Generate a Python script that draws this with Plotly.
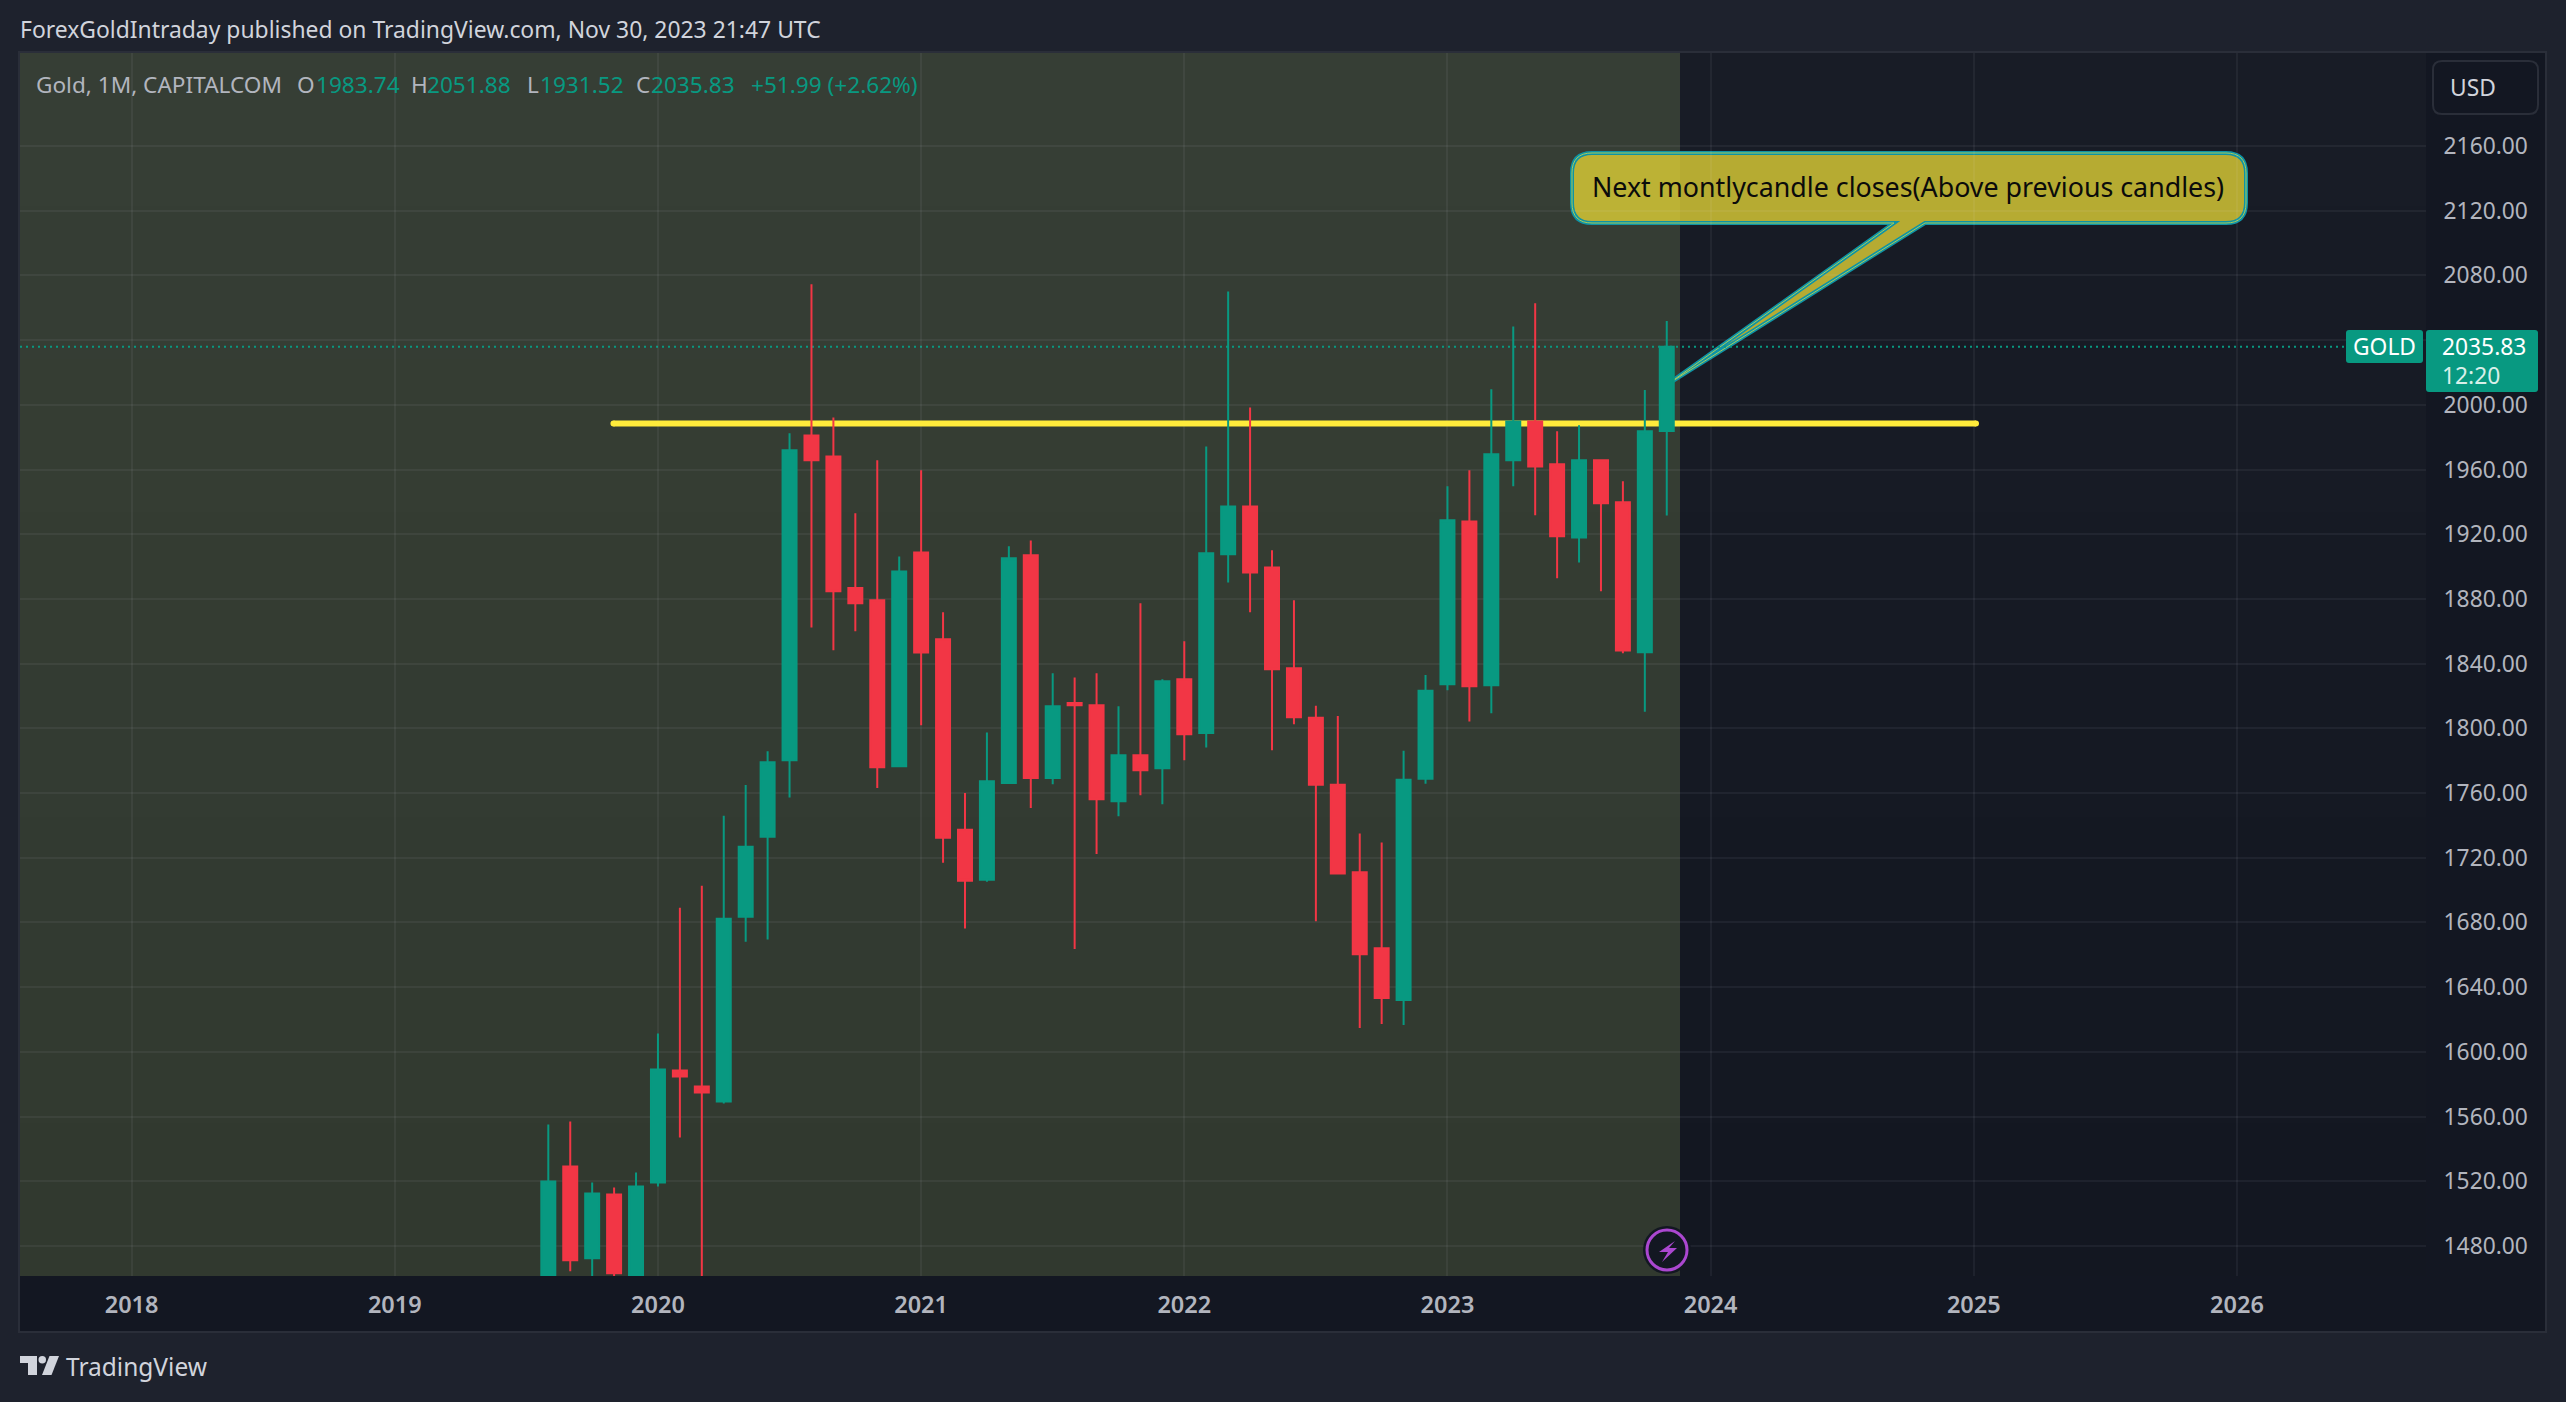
import plotly.graph_objects as go

# ---------- data ----------
bar_index = list(range(-5, 47))   # months since Jan 2020
opens = [1413, 1529.2, 1472.4, 1511.9, 1461.9,
         1519.3, 1588.5, 1578.6, 1569.3, 1683.6, 1733, 1780.3, 1981.1, 1968.1, 1886.7, 1879.2, 1776.5,
         1908.7, 1855.1, 1737.3, 1706.4, 1766.2, 1907, 1769.3, 1815.6, 1814.3, 1754.9, 1783.4, 1775.4,
         1830.4, 1797.1, 1907.6, 1937.2, 1899.5, 1837.2, 1806.5, 1765.2, 1711, 1664.1, 1632.1, 1768.9,
         1827.3, 1927.9, 1826.6, 1965.7, 1989.7, 1963.2, 1918, 1965.8, 1939.8, 1847, 1983.74]
highs = [1555.1, 1557, 1519.3, 1516.2, 1525.5,
         1611.3, 1689.1, 1702.7, 1745.9, 1765, 1785.8, 1982.5, 2074.5, 1992.2, 1933, 1965.7, 1906.3,
         1959.5, 1871.7, 1760, 1797.5, 1912.5, 1916.2, 1834.1, 1831.5, 1834.1, 1813.6, 1877.4, 1830.4,
         1853.8, 1974.3, 2070.1, 1998.3, 1910.1, 1879.2, 1813.9, 1807.7, 1735, 1729.5, 1786.2, 1833,
         1949.6, 1959.5, 2009.6, 2048.4, 2062.8, 1983.6, 1987.3, 1965.8, 1952.8, 2009.1, 2051.88]
lows = [1400, 1464.4, 1458, 1445, 1459,
        1516.8, 1547.1, 1451, 1568.1, 1668.1, 1669.4, 1757.3, 1862.4, 1848.3, 1860, 1763.1, 1775.9,
        1801.9, 1716.9, 1676.2, 1705.2, 1765.8, 1750.7, 1765.5, 1663.6, 1722.3, 1745.6, 1758.7, 1753.1,
        1780.3, 1788.2, 1890.2, 1871.7, 1786.5, 1802.6, 1680.8, 1709.7, 1614.8, 1617.3, 1616.6, 1765.8,
        1823.5, 1804.3, 1809.4, 1949.6, 1931.7, 1892.8, 1902.6, 1884.7, 1846.4, 1810.2, 1931.52]
closes = [1519.9, 1471.2, 1512.5, 1463.1, 1516.8,
          1589.1, 1584.8, 1574.9, 1682.3, 1726.8, 1779, 1971.9, 1965.7, 1884.7, 1877.4, 1775.9, 1897,
          1846.9, 1732.3, 1705.8, 1767.3, 1905.2, 1769.3, 1813.6, 1814.3, 1756.2, 1783.4, 1774.1, 1829.1,
          1796.4, 1908.3, 1937.2, 1896.4, 1836.6, 1806.8, 1765.2, 1710.3, 1660.4, 1633.3, 1768.3, 1823.2,
          1928.6, 1826, 1969.4, 1989.7, 1961.9, 1918.7, 1965.7, 1939.2, 1848.2, 1983.7, 2035.83]

price_ticks = list(range(1480, 2200, 40))
# the 2040.00 label is hidden behind the price tag in the reference
price_labels = ["" if p == 2040 else f"{p}.00" for p in price_ticks]
year_ticks = [-24, -12, 0, 12, 24, 36, 48, 60, 72]
year_labels = ["2018", "2019", "2020", "2021", "2022", "2023", "2024", "2025", "2026"]

last_price = 2035.83
level_price = 1988.5
level_start, level_end = -2.03, 60.1

# ---------- page geometry (pixels) ----------
W, H = 2566, 1402
L, R, T, B = 20, 2426, 53, 1276
def fx(p): return (p - L) / (R - L)
def fy(p): return (B - p) / (B - T)
def lerp(a, b, t): return tuple(a[i] + (b[i] - a[i]) * t for i in range(3))
def rgb(c): return "rgb(%d,%d,%d)" % tuple(round(v) for v in c)

BG = "#1e222d"
AXIS_BG = "#131722"
GREEN = "#089981"
RED = "#F23645"
TXT = "#b2b5be"
FONT = "Noto Sans"

shapes = []
# axis panel
shapes.append(dict(type="rect", xref="paper", yref="paper", x0=fx(19), x1=fx(2546), y0=fy(1332), y1=fy(52),
                   fillcolor=AXIS_BG, line=dict(color="#2a2e39", width=2), layer="below"))
# vertical background gradient of the pane and of the shaded zone
N = 8
edges = [T + round((B - T) * i / N) for i in range(N + 1)]
for i in range(N):
    t = i / (N - 1)
    shapes.append(dict(type="rect", xref="paper", yref="paper", x0=0, x1=1, y0=fy(B), y1=fy(edges[i]),
                       fillcolor=rgb(lerp((24, 28, 38), (19, 23, 33), t)), line_width=0, layer="below"))
for i in range(N):
    t = i / (N - 1)
    shapes.append(dict(type="rect", xref="paper", yref="paper", x0=0, x1=fx(1680), y0=fy(B), y1=fy(edges[i]),
                       fillcolor=rgb(lerp((54, 62, 53), (49, 57, 47), t)), line_width=0, layer="below"))


def rounded(x0, y0, x1, y1, r, tail=None):
    P = lambda x, y: f"{fx(x):.6f},{fy(y):.6f}"
    mid = ""
    if tail:
        (bx0, bx1, tx, ty) = tail
        mid = f"L {P(bx1, y1)} L {P(tx, ty)} L {P(bx0, y1)} "
    return (f"M {P(x0 + r, y0)} L {P(x1 - r, y0)} Q {P(x1, y0)} {P(x1, y0 + r)} "
            f"L {P(x1, y1 - r)} Q {P(x1, y1)} {P(x1 - r, y1)} "
            + mid +
            f"L {P(x0 + r, y1)} Q {P(x0, y1)} {P(x0, y1 - r)} "
            f"L {P(x0, y0 + r)} Q {P(x0, y0)} {P(x0 + r, y0)} Z")

callout = rounded(1572, 153, 2246, 223, 20, (1894, 1925, 1668, 384))
shapes.append(dict(type="path", xref="paper", yref="paper", path=callout, layer="between",
                   fillcolor="rgba(222,207,54,0.8)", line=dict(color="#0e93a6", width=4)))
shapes.append(dict(type="path", xref="paper", yref="paper", path=callout, layer="between",
                   fillcolor="rgba(0,0,0,0)", line=dict(color="#a8cc5a", width=1)))
# horizontal level, with round ends
shapes.append(dict(type="line", xref="x", yref="y", x0=level_start, x1=level_end, y0=level_price, y1=level_price,
                   line=dict(color="#ffeb3b", width=6), layer="between"))
for xa in (level_start, level_end):
    shapes.append(dict(type="circle", xref="x", yref="y", xsizemode="pixel", ysizemode="pixel",
                       xanchor=xa, yanchor=level_price, x0=-3, x1=3, y0=-3, y1=3,
                       fillcolor="#ffeb3b", line_width=0, layer="between"))
# last price line
shapes.append(dict(type="line", xref="paper", yref="y", x0=0, x1=1, y0=last_price, y1=last_price,
                   line=dict(color=GREEN, width=2, dash="2px,4px"), layer="between"))
# price tags
shapes.append(dict(type="path", xref="paper", yref="paper", path=rounded(2346, 330, 2423, 363, 3),
                   fillcolor=GREEN, line_width=0, layer="above"))
shapes.append(dict(type="path", xref="paper", yref="paper", path=rounded(2426, 330, 2538, 392, 3),
                   fillcolor=GREEN, line_width=0, layer="above"))
# USD button
shapes.append(dict(type="path", xref="paper", yref="paper", path=rounded(2433, 61, 2538, 114, 9),
                   fillcolor=AXIS_BG, line=dict(color="#2a2e39", width=2), layer="above"))
# lightning badge
shapes.append(dict(type="circle", xref="paper", yref="paper", x0=fx(1643), x1=fx(1691), y0=fy(1274), y1=fy(1226),
                   fillcolor=AXIS_BG, line_width=0, layer="above"))
shapes.append(dict(type="circle", xref="paper", yref="paper", x0=fx(1647), x1=fx(1687), y0=fy(1270), y1=fy(1230),
                   fillcolor=AXIS_BG, line=dict(color="#ab47d0", width=3), layer="above"))
def poly(pts):
    return "M " + " L ".join(f"{fx(x):.6f},{fy(y):.6f}" for x, y in pts) + " Z"
shapes.append(dict(type="path", xref="paper", yref="paper", layer="above", fillcolor="#ab47d0", line_width=0,
                   path=poly([(1675, 1241), (1659, 1252), (1668, 1252), (1662, 1262), (1677, 1248), (1669, 1248)])))
# TradingView mark
shapes.append(dict(type="path", xref="paper", yref="paper", layer="above", fillcolor="#d1d4dc", line_width=0,
                   path=poly([(20, 1356), (37, 1356), (37, 1375), (28, 1375), (28, 1363), (20, 1363)])))
shapes.append(dict(type="circle", xref="paper", yref="paper", layer="above", fillcolor="#d1d4dc", line_width=0,
                   x0=fx(38.5), x1=fx(46), y0=fy(1363.5), y1=fy(1356)))
shapes.append(dict(type="path", xref="paper", yref="paper", layer="above", fillcolor="#d1d4dc", line_width=0,
                   path=poly([(49.5, 1356), (59, 1356), (51.5, 1375), (42, 1375)])))

def note(x, y, text, color=TXT, size=22.6, anchor="left", weight=None):
    f = dict(family=FONT, size=size, color=color)
    if weight: f["weight"] = weight
    return dict(xref="paper", yref="paper", x=fx(x), y=fy(y), text=text, showarrow=False,
                xanchor=anchor, yanchor="middle", font=f, borderpad=0, borderwidth=0)

annotations = [
    note(20, 30, "ForexGoldIntraday published on TradingView.com, Nov 30, 2023 21:47 UTC", "#d1d4dc", 22.9),
    note(36, 84, "Gold, 1M, CAPITALCOM", TXT),
    note(297, 84, "O", TXT), note(316, 84, "1983.74", GREEN),
    note(411, 84, "H", TXT), note(427, 84, "2051.88", GREEN),
    note(527, 84, "L", TXT), note(540, 84, "1931.52", GREEN),
    note(636, 84, "C", TXT), note(651, 84, "2035.83", GREEN),
    note(751, 84, "+51.99 (+2.62%)", GREEN),
    note(1592, 186, "Next montlycandle closes(Above previous candles)", "#0b0b0b", 26.8),
    note(2384.5, 347, "GOLD", "#ffffff", 22.8, "center"),
    note(2442, 347, "2035.83", "#ffffff", 22.8),
    note(2442, 375, "12:20", "#d8efe9", 22.8),
    note(2473, 87, "USD", "#d1d4dc", 22.8, "center"),
    note(66, 1366, "TradingView", "#d1d4dc", 24.5),
]

fig = go.Figure(go.Candlestick(
    x=bar_index, open=opens, high=highs, low=lows, close=closes,
    whiskerwidth=0,
    increasing=dict(line=dict(color=GREEN, width=2), fillcolor=GREEN),
    decreasing=dict(line=dict(color=RED, width=2), fillcolor=RED),
    showlegend=False,
))

GRID = "rgba(240,243,250,0.055)"
fig.update_layout(
    width=W, height=H, autosize=False,
    margin=dict(l=L, r=W - R, t=T, b=H - B, pad=0),
    paper_bgcolor=BG, plot_bgcolor=AXIS_BG,
    boxgap=0.362, boxgroupgap=0,
    shapes=shapes, annotations=annotations,
    showlegend=False,
    xaxis=dict(range=[-29.09, 80.62], rangeslider=dict(visible=False), tickmode="array",
               tickvals=year_ticks, ticktext=year_labels, showgrid=True, gridcolor=GRID, gridwidth=2,
               zeroline=False, showline=False, ticks="outside", ticklen=8, tickcolor="rgba(0,0,0,0)",
               tickfont=dict(family=FONT, size=23.5, color=TXT, weight=600)),
    yaxis=dict(range=[1461.45, 2217.49], side="right", tickmode="array",
               tickvals=price_ticks, ticktext=price_labels, showgrid=True, gridcolor=GRID, gridwidth=2,
               zeroline=False, showline=False, ticks="outside", ticklen=12, tickcolor="rgba(0,0,0,0)",
               tickfont=dict(family=FONT, size=22.8, color=TXT)),
)
fig.write_html("out.html", config=dict(displayModeBar=False),
               post_script="document.body.style.margin='0';document.body.style.background='#1e222d';document.documentElement.style.overflow='hidden';")
